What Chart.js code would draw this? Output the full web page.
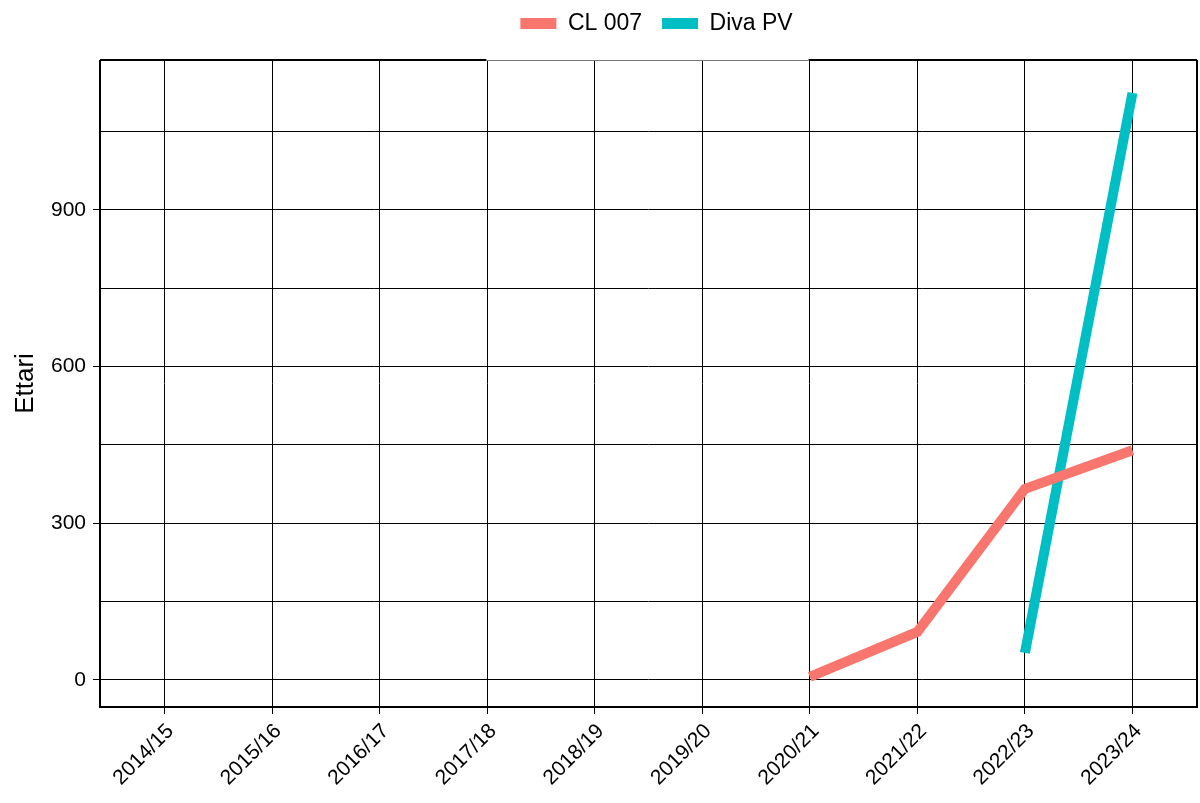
<!DOCTYPE html>
<html>
<head>
<meta charset="utf-8">
<script src="https://cdn.jsdelivr.net/npm/chart.js@4"></script>
<style>
  html, body { margin:0; padding:0; background:#fff; }
  #wrap { width:1200px; height:803px; }
</style>
</head>
<body>
<div id="wrap"><canvas id="chart" width="1200" height="803"></canvas></div>
<script>
// Seasons on the x axis
const SEASONS = ["2014/15","2015/16","2016/17","2017/18","2018/19","2019/20","2020/21","2021/22","2022/23","2023/24"];
// Hectares per season (null = no data)
const CL007  = [null,null,null,null,null,null,6,92,366,440];
const DIVAPV = [null,null,null,null,null,null,null,null,52,1124];
// Grid lines every 150, labels every 300
const Y_TICKS = [0,150,300,450,600,750,900,1050];
const Y_LABELS = [0,300,600,900];

const FONT = "'Liberation Sans', Arial, sans-serif";
const LEGEND_DX = 58, LEGEND_DY = -8;

// turn a series into {x,y} points on the index scale
function toPoints(arr){
  return arr.map((v,i)=> v===null ? null : {x:i, y:v}).filter(p=>p);
}

// panel border (ggplot style), top edge thinner where legend box overlaps
const borderPlugin = {
  id:'panelBorder',
  afterDraw(chart){
    const a = chart.chartArea, ctx = chart.ctx;
    ctx.save();
    ctx.strokeStyle = '#000';
    ctx.lineWidth = 2;
    ctx.beginPath();
    ctx.moveTo(a.left, a.top); ctx.lineTo(a.left, a.bottom);
    ctx.lineTo(a.right, a.bottom); ctx.lineTo(a.right, a.top);
    ctx.stroke();
    const boxes = chart.legend.legendHitBoxes || [];
    let g0 = a.right, g1 = a.right;
    if(boxes.length){
      g0 = boxes[0].left + LEGEND_DX - 34;
      g1 = boxes[boxes.length-1].left + boxes[boxes.length-1].width + LEGEND_DX + 16;
    }
    ctx.beginPath();
    ctx.moveTo(a.left, a.top); ctx.lineTo(g0, a.top);
    ctx.moveTo(g1, a.top); ctx.lineTo(a.right, a.top);
    ctx.stroke();
    ctx.lineWidth = 1;
    ctx.strokeStyle = '#777';
    ctx.beginPath();
    ctx.moveTo(g0, a.top+0.5); ctx.lineTo(g1, a.top+0.5);
    ctx.stroke();
    ctx.restore();
  }
};

// fix legend height so the panel starts at the same place, and move the legend over the panel
const legendTweak = {
  id:'legendTweak',
  beforeInit(chart){
    const lg = chart.legend;
    const fit = lg.fit, draw = lg.draw;
    lg.fit = function(){ fit.call(lg); lg.height = 60; };
    lg.draw = function(){
      const ctx = chart.ctx;
      ctx.save(); ctx.translate(LEGEND_DX, LEGEND_DY); draw.call(lg); ctx.restore();
    };
  }
};

new Chart(document.getElementById('chart'), {
  type:'line',
  data:{
    datasets:[
      {label:'CL 007', data:toPoints(CL007), borderColor:'#F8766D', backgroundColor:'#F8766D',
       borderWidth:10, pointRadius:0, tension:0, borderCapStyle:'butt'},
      {label:'Diva PV', data:toPoints(DIVAPV), borderColor:'#00BFC4', backgroundColor:'#00BFC4',
       borderWidth:10, pointRadius:0, tension:0, borderCapStyle:'butt'}
    ]
  },
  options:{
    responsive:false,
    animation:false,
    layout:{padding:{left:0,right:3,top:0,bottom:0}},
    plugins:{
      tooltip:{enabled:false},
      legend:{
        position:'top',
        labels:{
          font:{family:FONT,size:23}, color:'#000', boxWidth:36, boxHeight:11, padding:20,
          generateLabels(chart){
            const items = Chart.defaults.plugins.legend.labels.generateLabels(chart);
            items.forEach(it=>{ it.lineWidth = 0; });
            return items;
          }
        }
      }
    },
    scales:{
      x:{
        type:'linear', min:-0.6, max:9.6,
        afterBuildTicks(s){ s.ticks = SEASONS.map((_,i)=>({value:i})); },
        afterFit(s){ s.height = 96; },
        ticks:{
          callback:v=>SEASONS[v], autoSkip:false, maxRotation:45, minRotation:45,
          font:{family:FONT,size:21}, color:'#000', padding:5, labelOffset:6
        },
        grid:{color:'#000', lineWidth:1, tickLength:7, tickColor:'#000'},
        border:{display:false}
      },
      y:{
        type:'linear', min:-51.7, max:1187,
        afterBuildTicks(s){ s.ticks = Y_TICKS.map(v=>({value:v})); },
        afterFit(s){ s.width = 100; },
        ticks:{
          callback:v=>Y_LABELS.includes(v) ? String(v) : '',
          font:{family:FONT,size:21}, color:'#000', padding:7
        },
        grid:{color:'#000', lineWidth:1, tickLength:7,
          tickColor:c=> c.tick && Y_LABELS.includes(c.tick.value) ? '#000' : 'rgba(0,0,0,0)'},
        border:{display:false},
        title:{display:true, text:'Ettari', font:{family:FONT,size:26}, color:'#000', padding:{top:10,bottom:0}}
      }
    }
  },
  plugins:[borderPlugin, legendTweak]
});
</script>
</body>
</html>
